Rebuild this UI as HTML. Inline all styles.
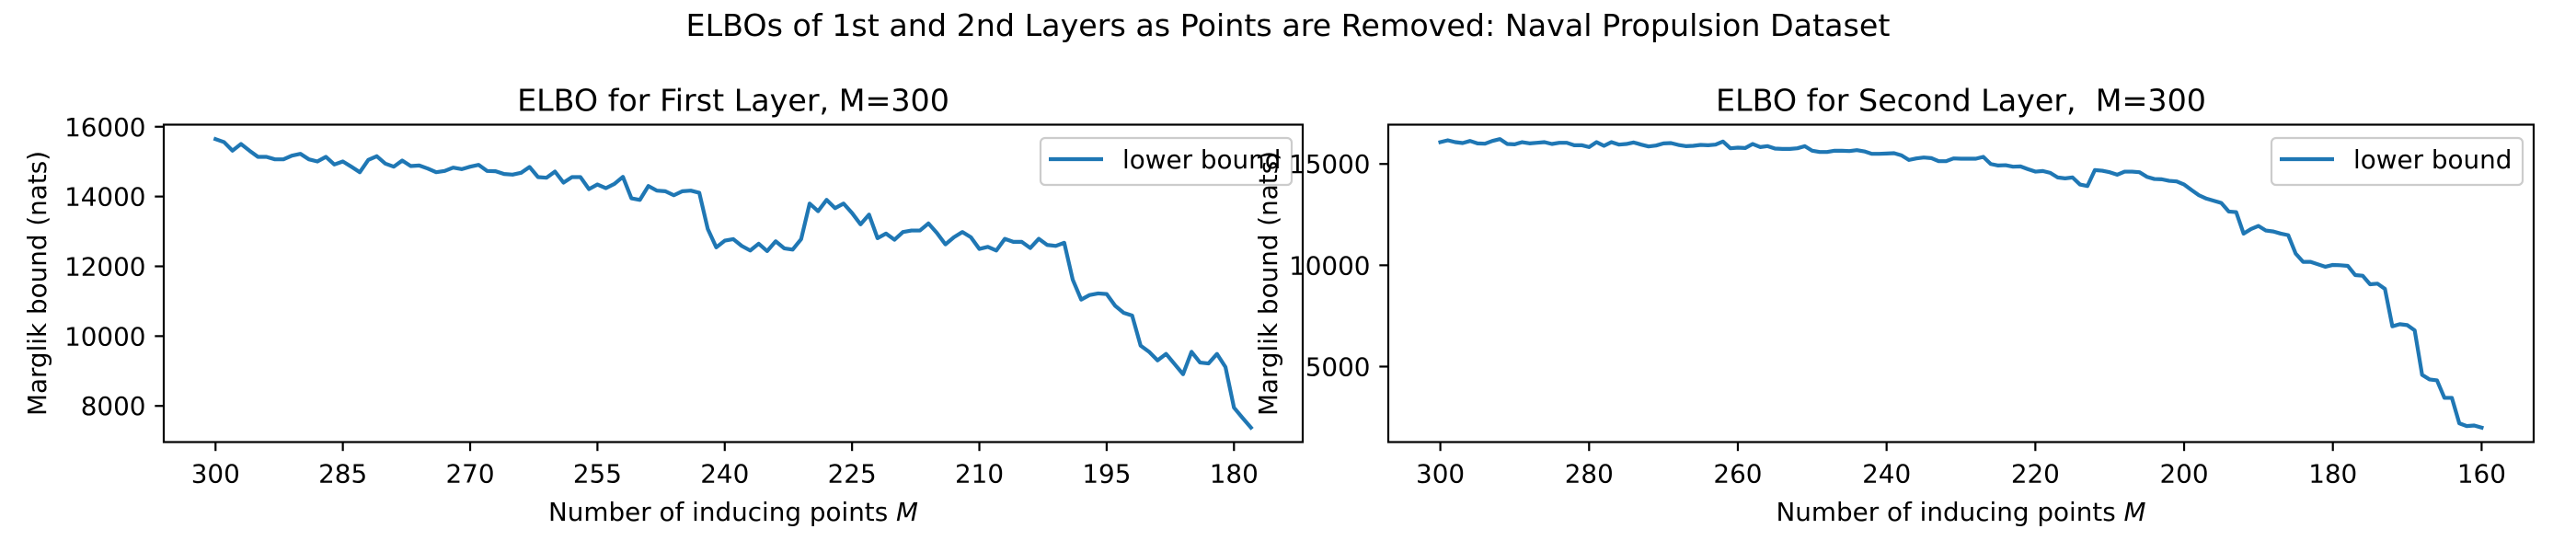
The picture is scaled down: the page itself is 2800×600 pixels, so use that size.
<!DOCTYPE html>
<html><head><meta charset="utf-8">
<style>
html,body{margin:0;padding:0;background:#fff;}
svg{display:block;font-family:"DejaVu Sans","Liberation Sans",sans-serif;}
</style></head>
<body>
<svg id="fig" width="2800" height="600" viewBox="0 0 2800 600" xmlns="http://www.w3.org/2000/svg">
<rect x="0" y="0" width="2800" height="600" fill="#fff"/>
<text x="1400" y="39" font-size="33.3" text-anchor="middle">ELBOs of 1st and 2nd Layers as Points are Removed: Naval Propulsion Dataset</text>
<g id="p1"></g>
<g id="p2"></g>
</svg>
<script>
// ----- Data: first layer (M = 300 down to 178) -----
const layer1Values = [15646,15560,15314,15506,15314,15137,15137,15066,15066,15172,
15224,15066,15005,15137,14918,15005,14855,14697,15050,15155,
14944,14855,15031,14873,14890,14802,14697,14733,14829,14785,
14855,14907,14733,14724,14645,14627,14680,14846,14556,14539,
14715,14398,14556,14556,14213,14345,14240,14363,14565,13950,
13904,14301,14169,14152,14037,14152,14169,14107,
13071,12543,12735,12780,12585,12453,12648,12437,12717,12516,
12479,12780,13799,13580,13905,13667,13799,13527,13203,13483,
12807,12939,12762,12983,13026,13026,13229,12955,12630,12833,
12983,12833,12498,12558,12453,12788,12701,12701,12525,12788,
12612,12585,12675,11619,11047,11179,11223,11205,10870,10669,
10590,9727,9551,9305,9490,9200,8909,9551,9244,9217,
9490,9112,7951,7660,7378];
const layer1Start = 300;
const layer1XTicks = [300,285,270,255,240,225,210,195,180];
const layer1YTicks = [8000,10000,12000,14000,16000];

// ----- Data: second layer (M = 300 down to 160) -----
const layer2Values = [16077,16168,16077,16031,16137,16016,16001,16137,16228,15986,
15971,16077,16016,16046,16077,15986,16046,16046,15925,15925,
15834,16077,15895,16077,15956,15986,16062,15956,15865,15910,
16016,16031,15940,15880,15895,15940,15925,15956,16107,15774,
15804,15789,15986,15834,15880,15759,15743,15743,15774,15880,
15653,15592,15592,15653,15653,15637,15683,15622,15501,15501,
15516,15531,15425,15198,15274,15319,15289,15137,15137,15274,
15259,15259,15259,15350,
14999,14925,14940,14865,14880,14744,14622,14653,14562,14334,
14289,14334,13986,13910,14698,14668,14592,14471,14622,14622,
14592,14365,14259,14244,14168,14138,13986,13713,13456,13289,
13183,13077,12653,12623,11562,11789,11941,11714,11668,11562,
11486,10577,10168,10168,10047,9926,10017,10002,9971,9517,
9486,9062,9092,8835,6987,7093,7047,6790,4593,4366,
4320,3457,3457,2199,2063,2093,1987];
const layer2Start = 300;
const layer2XTicks = [300,280,260,240,220,200,180,160];
const layer2YTicks = [5000,10000,15000];

const NS = "http://www.w3.org/2000/svg";
function mk(parent, tag, attrs, text){
  const e = document.createElementNS(NS, tag);
  for (const k in attrs) e.setAttribute(k, attrs[k]);
  if (text !== undefined) e.textContent = text;
  parent.appendChild(e);
  return e;
}

function drawPanel(g, cfg){
  const {L,R,T,B,values,start,xTicks,yTicks,title,ylabelX} = cfg;
  const n = values.length;
  const xFirst = start, xLast = start - (n - 1);
  const xm = (xFirst - xLast) * 0.05;
  const x0 = xFirst + xm, x1 = xLast - xm;
  const vmin = Math.min(...values), vmax = Math.max(...values);
  const ym = (vmax - vmin) * 0.05;
  const y0 = vmin - ym, y1 = vmax + ym;
  const sx = v => L + (x0 - v) / (x0 - x1) * (R - L);
  const sy = v => B - (v - y0) / (y1 - y0) * (B - T);

  let d = "";
  values.forEach((v,i)=>{ d += (i ? "L" : "M") + sx(start - i).toFixed(2) + "," + sy(v).toFixed(2); });
  const line = mk(g, "path", {d:d, fill:"none", stroke:"#1f77b4", "stroke-width":4.2, "stroke-linejoin":"round", "stroke-linecap":"square"});
  
  

  const box = mk(g, "rect", {x:L, y:T, width:R-L, height:B-T, fill:"none", stroke:"#000", "stroke-width":2.2});
  
  

  xTicks.forEach(t=>{
    const x = sx(t);
    const tk = mk(g, "line", {x1:x, x2:x, y1:B, y2:B+9.7, stroke:"#000", "stroke-width":2.2});
    
    
    const lb = mk(g, "text", {x:x, y:B+44, "font-size":27.8, "text-anchor":"middle"}, String(t));
    
    
  });
  yTicks.forEach(t=>{
    const y = sy(t);
    const tk = mk(g, "line", {x1:L-9.7, x2:L, y1:y, y2:y, stroke:"#000", "stroke-width":2.2});
    
    
    const lb = mk(g, "text", {x:L-19.5, y:y+10, "font-size":27.8, "text-anchor":"end"}, String(t));
    
    
  });
  const tt = mk(g, "text", {x:(L+R)/2, y:T-15, "font-size":33.3, "text-anchor":"middle"}, title);
  
  
  const xl = mk(g, "text", {x:(L+R)/2, y:566, "font-size":27.8, "text-anchor":"middle"});
  
  
  xl.appendChild(document.createTextNode("Number of inducing points "));
  const ms = document.createElementNS(NS, "tspan");
  ms.setAttribute("font-style", "italic");
  ms.textContent = "M";
  xl.appendChild(ms);
  const cy = (T+B)/2;
  const yl = mk(g, "text", {x:ylabelX, y:cy, "font-size":27.8, "text-anchor":"middle", transform:"rotate(-90 "+ylabelX+" "+cy+")"}, "Marglik bound (nats)");
  
  
  const lg = mk(g, "g", {});
  
  
  const lx = R - 12 - 273;
  mk(lg, "rect", {x:lx, y:150, width:273, height:51, rx:5, ry:5, fill:"#fff", "fill-opacity":0.8, stroke:"#cccccc", "stroke-width":2.2});
  const ll = mk(lg, "line", {x1:lx+9, x2:lx+68, y1:173, y2:173, stroke:"#1f77b4", "stroke-width":4.2});
  
  
  const lt = mk(lg, "text", {x:lx+89, y:183, "font-size":27.8}, "lower bound");
  
  
}

drawPanel(document.getElementById("p1"), {L:178,R:1416,T:135.5,B:480.5,values:layer1Values,start:layer1Start,xTicks:layer1XTicks,yTicks:layer1YTicks,title:"ELBO for First Layer, M=300",ylabelX:50});
drawPanel(document.getElementById("p2"), {L:1509,R:2754,T:135.5,B:480.5,values:layer2Values,start:layer2Start,xTicks:layer2XTicks,yTicks:layer2YTicks,title:"ELBO for Second Layer,\u00a0 M=300",ylabelX:1388});
</script>
</body></html>
